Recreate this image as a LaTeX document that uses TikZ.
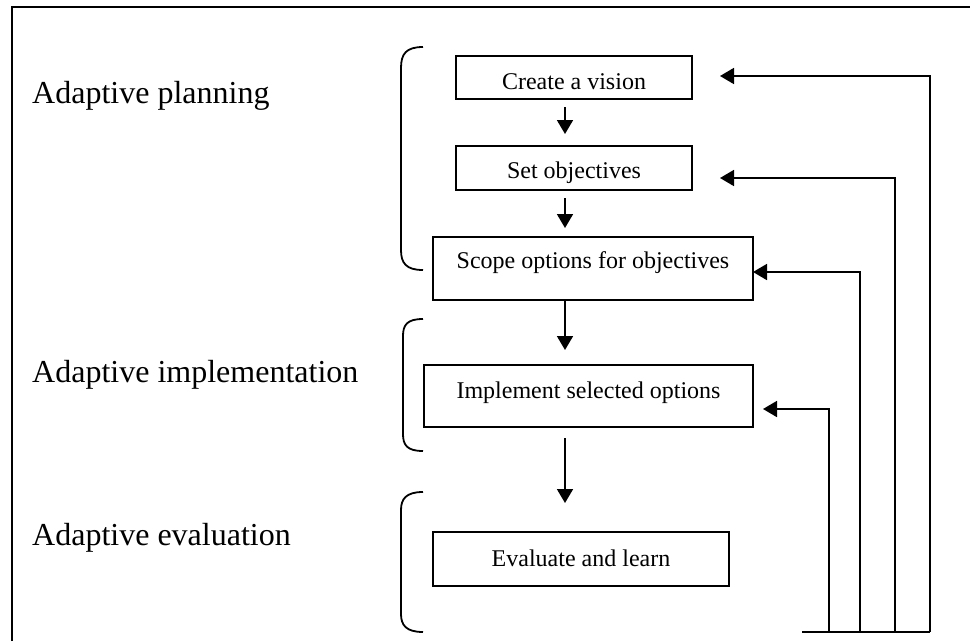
\documentclass[tikz,border=0pt]{standalone}
\usepackage{fontspec}
\setmainfont{Liberation Serif}
\usetikzlibrary{arrows.meta,calc}
\begin{document}
\begin{tikzpicture}[x=1pt,y=-1pt,
  stepbox/.style={draw,line width=1.8pt,inner sep=0pt,outer sep=0pt,anchor=north west,font=\fontsize{24}{28}\selectfont},
  phase/.style={anchor=base west,inner sep=0pt,font=\fontsize{32}{37}\selectfont},
  arr/.style={line width=1.8pt,-{Triangle[length=14pt,width=16pt]}},
  link/.style={line width=1.8pt},
  bracket/.style={line width=1.8pt},
  frame/.style={line width=2.4pt}]
\useasboundingbox (0,0) rectangle (970,641);

% outer frame (runs off the right and bottom edges)
\draw[frame] (12,641) -- (12,7) -- (970,7);

% phase labels
\node[phase] (lplan) at (32,103) {Adaptive planning};
\node[phase] (limpl) at (32,382) {Adaptive implementation};
\node[phase] (leval) at (32,545) {Adaptive evaluation};

% brackets
\draw[bracket] (423,47) .. controls (406,47) and (401,54) .. (401,68) -- (401,250) .. controls (401,263) and (406,270) .. (423,270);
\draw[bracket] (423,319) .. controls (407,319) and (403,325) .. (403,336) -- (403,434) .. controls (403,445) and (407,451) .. (423,451);
\draw[bracket] (423,492) .. controls (406,492) and (401,499) .. (401,510) -- (401,614) .. controls (401,625) and (406,632) .. (423,632);

% step boxes
\node[stepbox,minimum width=236pt,text height=33pt,text depth=10pt] (vision) at (456,56) {Create a vision};
\node[stepbox,minimum width=236pt,text height=32pt,text depth=12pt] (obj) at (456,146) {Set objectives};
\node[stepbox,minimum width=320pt,text height=31pt,text depth=32pt] (scope) at (433,237) {Scope options for objectives};
\node[stepbox,minimum width=329pt,text height=33pt,text depth=29pt] (impl) at (424,365) {Implement selected options};
\node[stepbox,minimum width=296pt,text height=34pt,text depth=20pt] (eval) at (433,532) {Evaluate and learn};

% main flow spine
\coordinate (sp) at (565,0);
\draw[arr] ($(vision.south -| sp)+(0,8)$) -- ($(obj.north -| sp)+(0,-12)$);
\draw[arr] ($(obj.south -| sp)+(0,8)$) -- ($(scope.north -| sp)+(0,-9)$);
\draw[arr] (scope.south -| sp) -- ($(impl.north -| sp)+(0,-15)$);
\draw[arr] ($(impl.south -| sp)+(0,11)$) -- ($(eval.north -| sp)+(0,-29)$);

% feedback bus
\coordinate (busL) at (802,632);
\coordinate (b1) at (930,632);
\coordinate (b2) at (895,632);
\coordinate (b3) at (860,632);
\coordinate (b4) at (829,632);
\draw[link] (busL) -- (b1);
\draw[arr] (b1) |- ($(vision.east)+(28,-1.5)$);
\draw[arr] (b2) |- ($(obj.east)+(28,10)$);
\draw[arr] (b3) |- ($(scope.east)+(0,3.5)$);
\draw[arr] (b4) |- ($(impl.east)+(10,13)$);
\end{tikzpicture}
\end{document}
